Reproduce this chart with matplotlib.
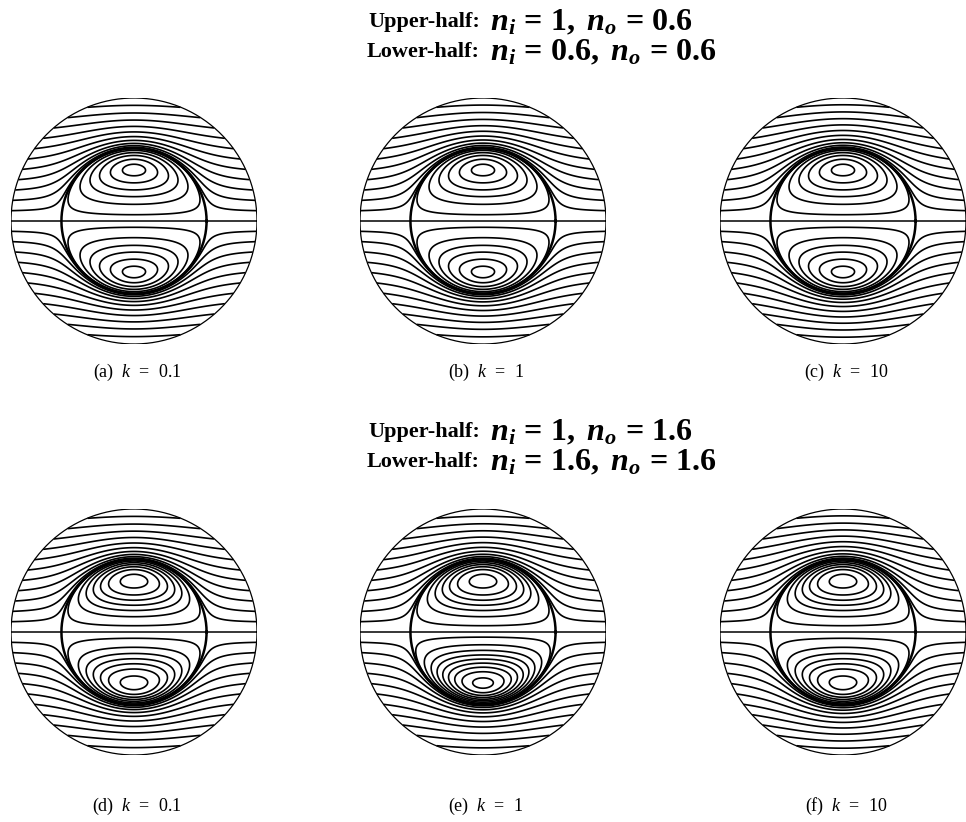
import numpy as np
import matplotlib
matplotlib.use("Agg")
import matplotlib.pyplot as plt

plt.rcParams['mathtext.fontset'] = 'custom'
plt.rcParams['mathtext.rm'] = 'Liberation Serif'
plt.rcParams['mathtext.it'] = 'Liberation Serif:italic'
plt.rcParams['mathtext.bf'] = 'Liberation Serif:bold'
plt.rcParams['mathtext.bfit'] = 'Liberation Serif:italic:bold'

# panel data
panel_labels = ['(a)', '(b)', '(c)', '(d)', '(e)', '(f)']
k_values = [0.1, 1, 10]
row_upper_title = ['Upper-half:', 'Upper-half:']
row_lower_title = ['Lower-half:', 'Lower-half:']
n_i_upper = [1, 1]
n_o_upper = [0.6, 1.6]
n_i_lower = [0.6, 1.6]
n_o_lower = [0.6, 1.6]

drop_radius = 0.59
# heights where outer streamlines meet the cell wall
wall_heights = [0.084, 0.168, 0.252, 0.336, 0.42, 0.504,
                0.588, 0.672, 0.756, 0.84, 0.924]
# inner vortex levels, fraction of the vortex strength
inner_sparse = [0.03, 0.2, 0.4, 0.6, 0.8, 0.95]
inner_medium = [0.03, 0.17, 0.32, 0.47, 0.62, 0.77, 0.93]
inner_dense = [0.02, 0.12, 0.24, 0.36, 0.48, 0.6, 0.72, 0.84, 0.96]
inner_choice = [[inner_sparse, inner_sparse, inner_sparse],
                [inner_medium, inner_medium, inner_medium]]
inner_choice_lower = [[inner_sparse, inner_sparse, inner_sparse],
                      [inner_medium, inner_dense, inner_medium]]


def cell_coeffs(a, k):
    # Happel cell, drop of radius a, viscosity ratio k
    M = np.array([
        [1 / a, a, a**2, a**4, 0],
        [1, 1, 1, 1, 0],
        [1, 0, 0, 1, 0],
        [-1 / a**2, 1, 2 * a, 4 * a**3, -2 * a**3],
        [2 / a**3, 0, 2, 12 * a**2, -k * 10 * a**2 - (1 - k) * 4 * a**2],
    ])
    rhs = np.array([0, 0.5, 0, 0, 0])
    return np.linalg.solve(M, rhs)


def stream(X, Y, a, k):
    r = np.sqrt(X**2 + Y**2)
    r = np.where(r == 0, 1e-9, r)
    s2 = (Y / r)**2
    A, B, C, D, F = cell_coeffs(a, k)
    f_st = A / r + B * r + C * r**2 + D * r**4
    m = 2.5
    f_fast = (r**2 - a**(m + 2) / r**m) / (2 * (1 - a**(m + 2)))
    w = 0.15 * k / (1 + k)
    psi_o = s2 * ((1 - w) * f_fast + w * f_st)
    psi_i = s2 * (r**2 * (a**2 - r**2))
    return psi_o, psi_i, a**4 / 4


fig = plt.figure(figsize=(9.66, 8.22), dpi=100)
W, H = 966, 822
R = 123
centers_x = [134, 483, 843]
centers_y = [221, 632]
label_y = [372, 806]
title_y = [[22, 52], [432, 462]]

g = np.linspace(-1, 1, 700)
X, Y = np.meshgrid(g, g)
rr = np.sqrt(X**2 + Y**2)
out_levels = [h**2 / 2 for h in wall_heights]
th = np.linspace(0, 2 * np.pi, 400)

for row in range(2):
    for col in range(3):
        cx, cy = centers_x[col], centers_y[row]
        ax = fig.add_axes([(cx - R) / W, (H - cy - R) / H, 2 * R / W, 2 * R / H])
        ax.set_xlim(-1, 1)
        ax.set_ylim(-1, 1)
        ax.axis('off')
        k = k_values[col]
        halves = [(Y >= 0, n_i_upper[row] / n_o_upper[row], inner_choice[row][col]),
                  (Y <= 0, n_i_lower[row] / n_o_lower[row], inner_choice_lower[row][col])]
        for half, ratio, fracs in halves:
            psi_o, psi_i, vmax = stream(X, Y, drop_radius, k * ratio)
            po = np.ma.masked_where(~half | (rr > 1) | (rr < drop_radius), psi_o)
            pi = np.ma.masked_where(~half | (rr > drop_radius), psi_i)
            ax.contour(X, Y, po, levels=out_levels, colors='k', linewidths=1.2)
            ax.contour(X, Y, pi, levels=[f * vmax for f in fracs], colors='k', linewidths=1.2)
        ax.plot(np.cos(th), np.sin(th), color='k', lw=0.9)
        ax.plot(drop_radius * np.cos(th), drop_radius * np.sin(th), color='k', lw=1.8)
        ax.plot([-1, 1], [0, 0], color='k', lw=1.1)
        fig.text((cx + 3) / W, 1 - label_y[row] / H,
                 panel_labels[row * 3 + col] + r'  $k$  =  ' + str(k),
                 ha='center', va='center', fontsize=13, family='Liberation Serif')

    ty1, ty2 = title_y[row]
    fig.text(480 / W, 1 - ty1 / H, row_upper_title[row], ha='right', va='center',
             fontsize=16, fontweight='bold', family='Liberation Serif')
    fig.text(480 / W, 1 - ty2 / H, row_lower_title[row], ha='right', va='center',
             fontsize=16, fontweight='bold', family='Liberation Serif')
    up = (r'$\mathbfit{n}_{\mathbfit{i}}\mathbf{\,=\,%s,\ }\mathbfit{n}_{\mathbfit{o}}\mathbf{\,=\,%s}$'
          % (n_i_upper[row], n_o_upper[row]))
    lo = (r'$\mathbfit{n}_{\mathbfit{i}}\mathbf{\,=\,%s,\ }\mathbfit{n}_{\mathbfit{o}}\mathbf{\,=\,%s}$'
          % (n_i_lower[row], n_o_lower[row]))
    fig.text(490 / W, 1 - ty1 / H, up, ha='left', va='center', fontsize=23)
    fig.text(490 / W, 1 - ty2 / H, lo, ha='left', va='center', fontsize=23)

fig.savefig('out.png', dpi=100)
